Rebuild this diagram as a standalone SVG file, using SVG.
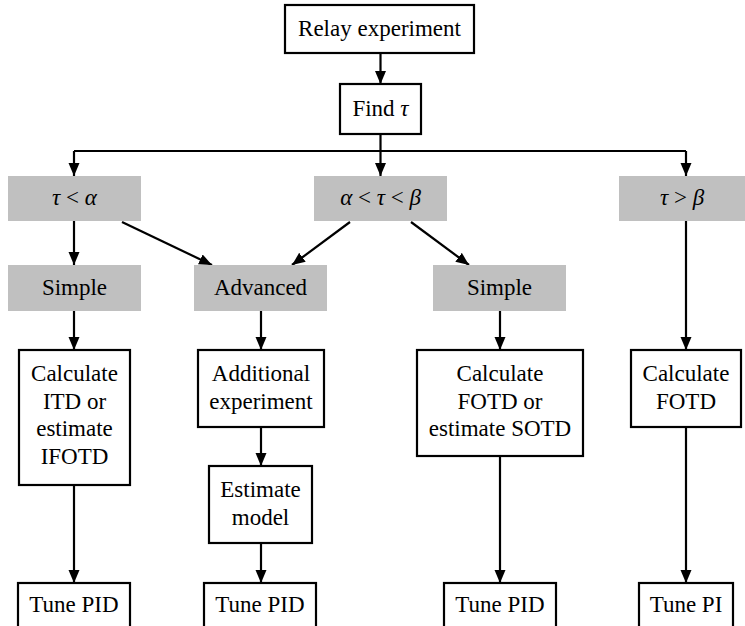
<svg xmlns="http://www.w3.org/2000/svg" width="745" height="626" viewBox="0 0 745 626">
<defs>
<marker id="ah" markerUnits="userSpaceOnUse" markerWidth="14" markerHeight="12" refX="13" refY="5.5" orient="auto">
<path d="M0,0 L13,5.5 L0,11 z" fill="#000"/>
</marker>
<style>
.box{fill:#fff;stroke:#000;stroke-width:2.2}
.grey{fill:#c0c0c0;stroke:none}
text{font-family:'Liberation Serif','Tinos','Nimbus Roman','Noto Serif','DejaVu Serif',serif;font-size:23px;fill:#000;text-anchor:middle}
.m{font-style:italic}
.c{fill:none;stroke:#000;stroke-width:2.2}
.a{fill:none;stroke:#000;stroke-width:2.2;marker-end:url(#ah)}
</style>
</defs>
<rect width="745" height="626" fill="#fff"/>
<g id="connectors">
<path class="a" d="M380.5,53 V84"/>
<path class="c" d="M380.5,134 V151 M74,151 H686"/>
<path class="a" d="M74,151 V176"/>
<path class="a" d="M380.5,151 V176"/>
<path class="a" d="M686,151 V176"/>
<path class="a" d="M74,221 V265"/>
<path class="a" d="M122,222 L212,265"/>
<path class="a" d="M350,222 L292,265"/>
<path class="a" d="M411,222 L469,265"/>
<path class="a" d="M686,221 V350"/>
<path class="a" d="M74,311 V350"/>
<path class="a" d="M74,485 V583"/>
<path class="a" d="M261,311 V350"/>
<path class="a" d="M261,427 V466"/>
<path class="a" d="M261,543 V583"/>
<path class="a" d="M500,311 V350"/>
<path class="a" d="M500,456 V583"/>
<path class="a" d="M686,427 V583"/>
</g>
<g id="relay"><rect class="box" x="285" y="5" width="189" height="48"/><text x="379.5" y="36" font-family="DejaVu Serif">Relay experiment</text></g>
<g id="find"><rect class="box" x="340" y="84" width="81" height="50"/><text x="380.5" y="116">Find <tspan class="m">τ</tspan></text></g>
<g id="lt"><rect class="grey" x="8" y="176" width="133" height="45"/><text x="74.5" y="205"><tspan class="m">τ</tspan> &lt; <tspan class="m">α</tspan></text></g>
<g id="mid"><rect class="grey" x="314" y="176" width="133" height="45"/><text x="380.5" y="205"><tspan class="m">α</tspan> &lt; <tspan class="m">τ</tspan> &lt; <tspan class="m">β</tspan></text></g>
<g id="gt"><rect class="grey" x="619" y="176" width="126" height="45"/><text x="682" y="205"><tspan class="m">τ</tspan> &gt; <tspan class="m">β</tspan></text></g>
<g id="simple1"><rect class="grey" x="8" y="265" width="133" height="46"/><text x="74.5" y="295">Simple</text></g>
<g id="advanced"><rect class="grey" x="194" y="265" width="133" height="46"/><text x="260.5" y="295">Advanced</text></g>
<g id="simple2"><rect class="grey" x="433" y="265" width="133" height="46"/><text x="499.5" y="295">Simple</text></g>
<g id="calc1"><rect class="box" x="19" y="350" width="111" height="135"/><text x="74.5" y="381">Calculate</text><text x="74.5" y="408.5">ITD or</text><text x="74.5" y="436">estimate</text><text x="74.5" y="464">IFOTD</text></g>
<g id="additional"><rect class="box" x="198" y="350" width="126" height="77"/><text x="261" y="381">Additional</text><text x="261" y="408.5">experiment</text></g>
<g id="estimate"><rect class="box" x="209" y="466" width="103" height="77"/><text x="260.5" y="497">Estimate</text><text x="260.5" y="525">model</text></g>
<g id="calc2"><rect class="box" x="417" y="350" width="166" height="106"/><text x="500" y="381">Calculate</text><text x="500" y="408.5">FOTD or</text><text x="500" y="436">estimate SOTD</text></g>
<g id="calc3"><rect class="box" x="631" y="350" width="110" height="77"/><text x="686" y="381">Calculate</text><text x="686" y="408.5">FOTD</text></g>
<g id="tune1"><rect class="box" x="18" y="583" width="112" height="60"/><text x="74" y="612">Tune PID</text></g>
<g id="tune2"><rect class="box" x="204" y="583" width="112" height="60"/><text x="260" y="612">Tune PID</text></g>
<g id="tune3"><rect class="box" x="444" y="583" width="112" height="60"/><text x="500" y="612">Tune PID</text></g>
<g id="tune4"><rect class="box" x="639" y="583" width="94" height="60"/><text x="686" y="612">Tune PI</text></g>
</svg>
